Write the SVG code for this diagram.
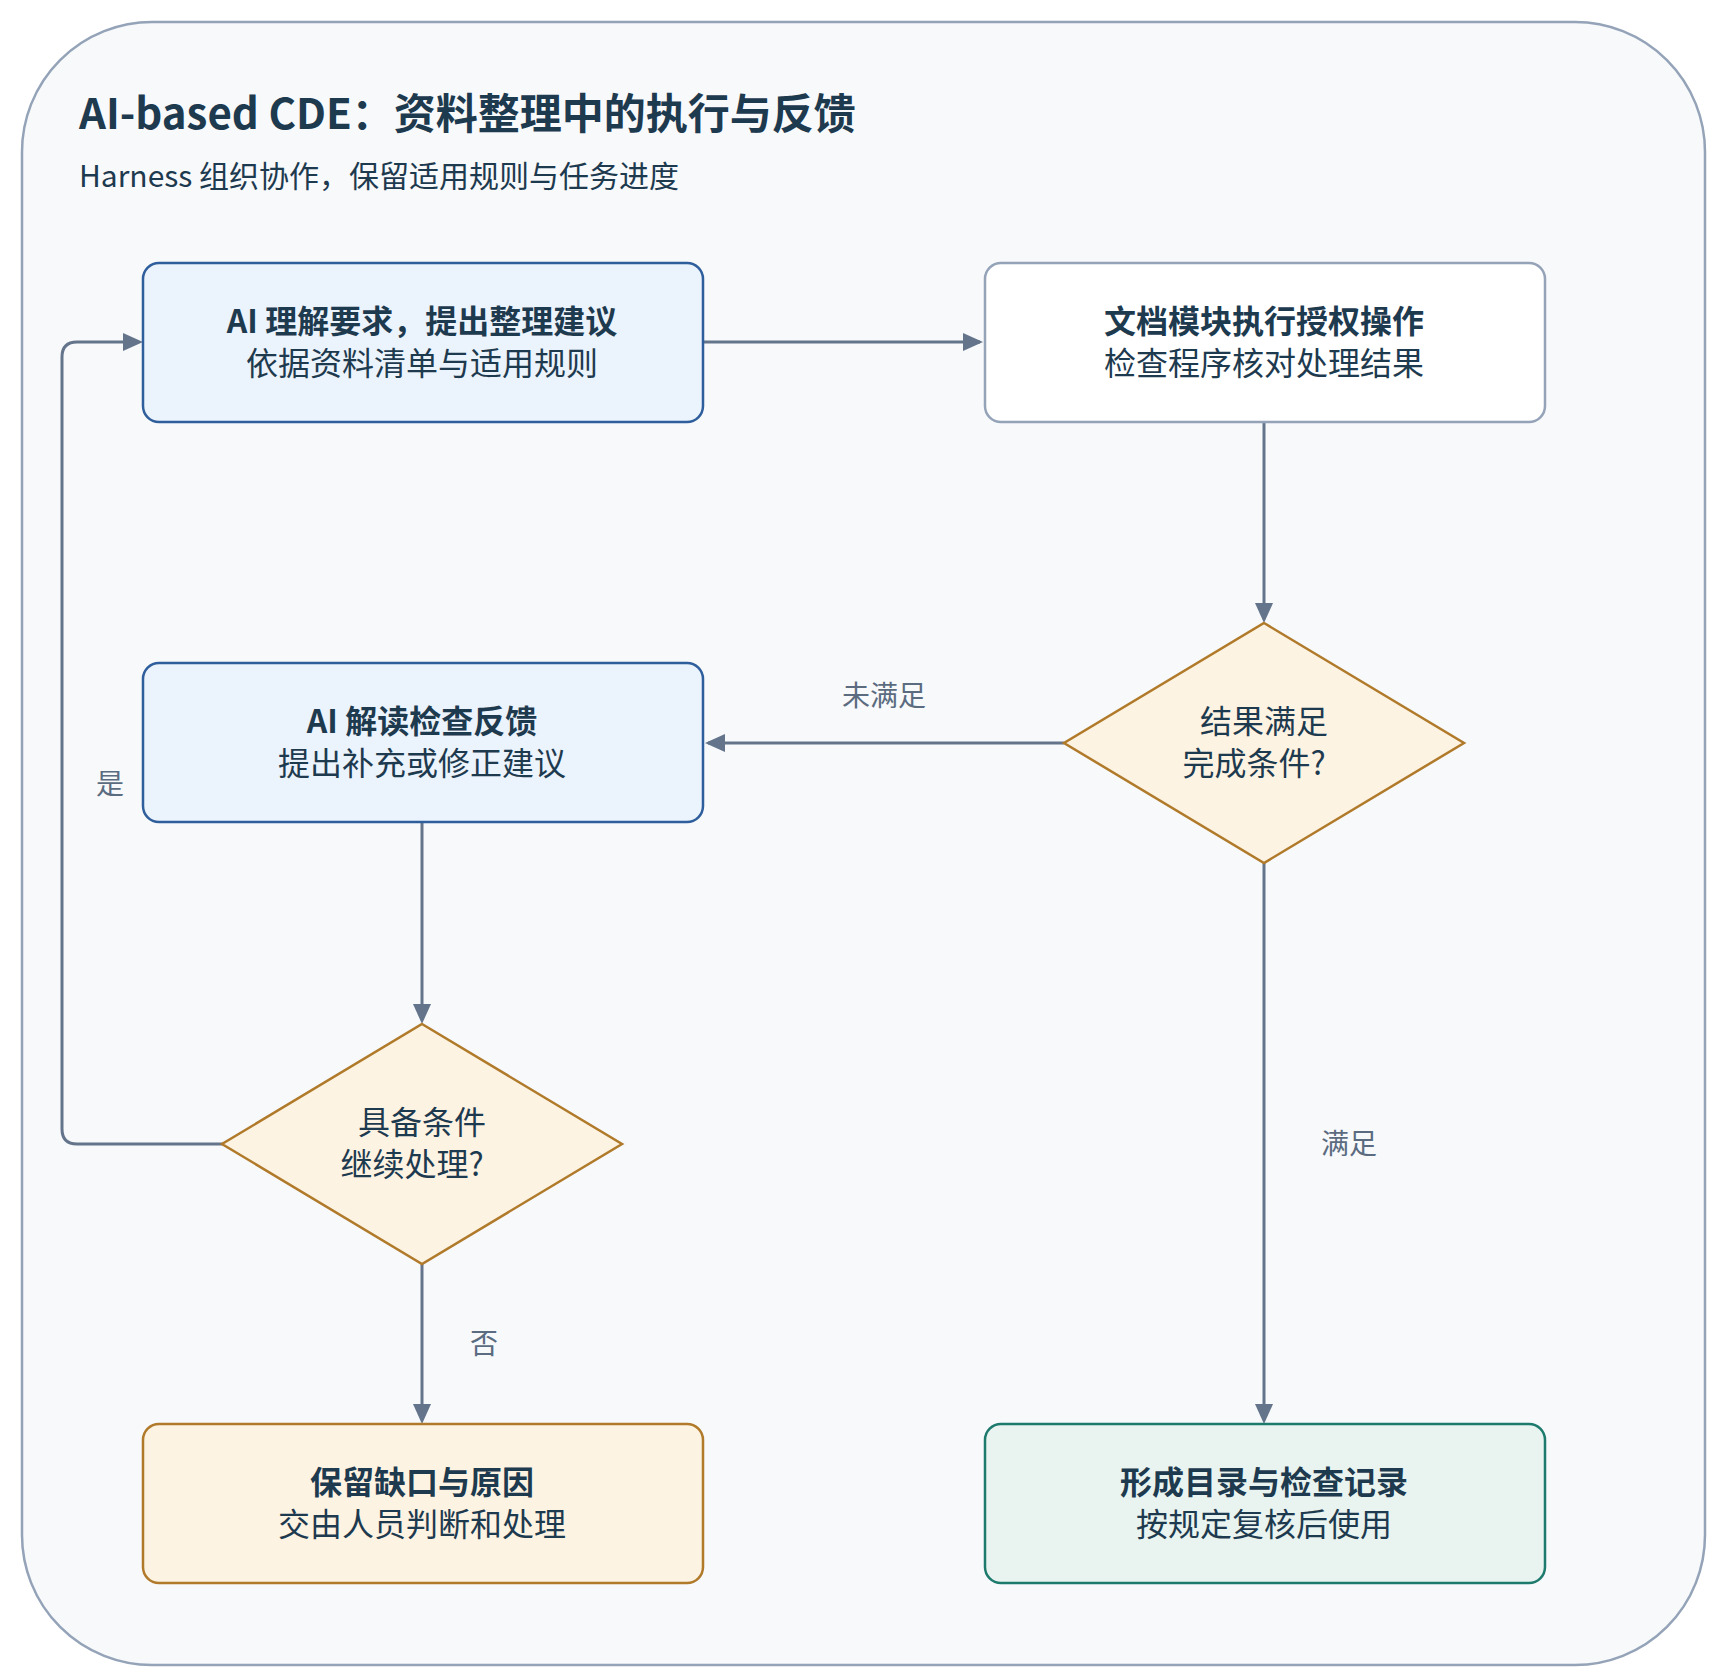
<svg xmlns="http://www.w3.org/2000/svg" width="1716" height="1676" viewBox="0 0 1716 1676">
<defs>
<style>
text{font-family:"Noto Sans CJK SC","Noto Sans",sans-serif;fill:#1E3A4F;text-anchor:middle}
.b{font-weight:700;font-size:32px}
.n{font-size:32px}
.l{font-size:28px;fill:#5B6B80}
.c{fill:none;stroke:#64748B;stroke-width:3}
</style>
<marker id="a" viewBox="0 0 10 10" refX="9" refY="5" markerWidth="7" markerHeight="7" orient="auto" markerUnits="userSpaceOnUse" >
<path d="M0,0L10,5L0,10z" fill="#64748B"/></marker>
</defs>
<rect x="22" y="22" width="1683" height="1643" rx="130" fill="#F7F9FB" stroke="#94A3B8" stroke-width="2.5"/>
<text x="79" y="129" style="font-size:42px;font-weight:700;text-anchor:start">AI-based CDE：资料整理中的执行与反馈</text>
<text x="79" y="187" style="font-size:30px;text-anchor:start">Harness 组织协作，保留适用规则与任务进度</text>
<g id="connectors">
<path class="c" d="M703,342H980" marker-end="url(#a)" style="marker-end:url(#a)"/>
<path class="c" d="M1264,422V619"/>
<path class="c" d="M1064,743H708"/>
<path class="c" d="M422,822V1020"/>
<path class="c" d="M422,1264V1420"/>
<path class="c" d="M1264,863V1420"/>
<path class="c" d="M224,1144H77Q62,1144 62,1129V357Q62,342 77,342H137"/>
</g>
<g fill="#64748B">
<path d="M983,342l-20,-9v18z"/>
<path d="M1264,623l-9,-20h18z"/>
<path d="M705,743l20,-9v18z"/>
<path d="M422,1024l-9,-20h18z"/>
<path d="M422,1424l-9,-20h18z"/>
<path d="M1264,1424l-9,-20h18z"/>
<path d="M143,342l-20,-9v18z"/>
</g>
<g id="labels">
<text class="l" x="884" y="706">未满足</text>
<text class="l" x="110" y="794">是</text>
<text class="l" x="1349" y="1154">满足</text>
<text class="l" x="484" y="1354">否</text>
</g>
<g id="n1"><rect x="143" y="263" width="560" height="159" rx="16" fill="#EBF3FC" stroke="#2F5E9C" stroke-width="2.5"/>
<text class="b" x="422" y="333">AI 理解要求，提出整理建议</text><text class="n" x="422" y="375">依据资料清单与适用规则</text></g>
<g id="n2"><rect x="985" y="263" width="560" height="159" rx="16" fill="#FFFFFF" stroke="#94A3B8" stroke-width="2.5"/>
<text class="b" x="1264" y="333">文档模块执行授权操作</text><text class="n" x="1264" y="375">检查程序核对处理结果</text></g>
<g id="n3"><rect x="143" y="663" width="560" height="159" rx="16" fill="#EBF3FC" stroke="#2F5E9C" stroke-width="2.5"/>
<text class="b" x="422" y="733">AI 解读检查反馈</text><text class="n" x="422" y="775">提出补充或修正建议</text></g>
<g id="d1"><path d="M1264,623L1464,743L1264,863L1064,743Z" fill="#FDF3E3" stroke="#B07A2A" stroke-width="2.5"/>
<text class="n" x="1264" y="733">结果满足</text><text class="n" x="1254" y="775">完成条件?</text></g>
<g id="d2"><path d="M422,1024L622,1144L422,1264L222,1144Z" fill="#FDF3E3" stroke="#B07A2A" stroke-width="2.5"/>
<text class="n" x="422" y="1134">具备条件</text><text class="n" x="412" y="1176">继续处理?</text></g>
<g id="n4"><rect x="143" y="1424" width="560" height="159" rx="16" fill="#FDF3E3" stroke="#B07A2A" stroke-width="2.5"/>
<text class="b" x="422" y="1494">保留缺口与原因</text><text class="n" x="422" y="1536">交由人员判断和处理</text></g>
<g id="n5"><rect x="985" y="1424" width="560" height="159" rx="16" fill="#E9F4F0" stroke="#1F7A6E" stroke-width="2.5"/>
<text class="b" x="1264" y="1494">形成目录与检查记录</text><text class="n" x="1264" y="1536">按规定复核后使用</text></g>
</svg>
